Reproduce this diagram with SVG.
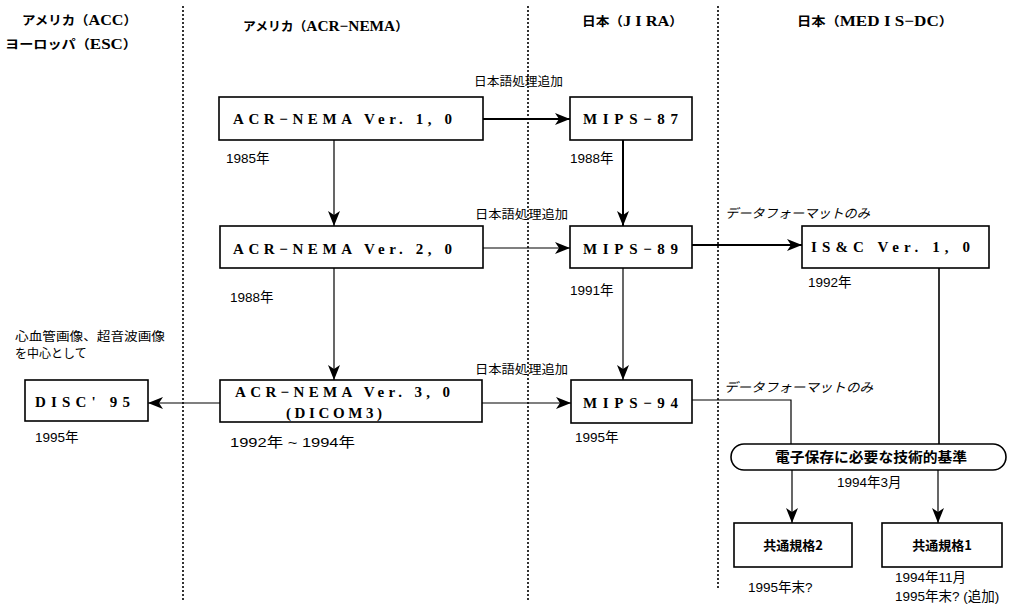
<svg xmlns="http://www.w3.org/2000/svg" width="1018" height="607" viewBox="0 0 1018 607">
<style>
.hdr{font-family:"Liberation Serif","Noto Sans CJK JP",serif;font-weight:bold;font-size:15px;fill:#000}
.hdr tspan.k{font-family:"Noto Sans CJK JP",sans-serif;font-size:12.5px}
.box{fill:#fff;stroke:#000;stroke-width:1.6}
.bt{font-family:"Liberation Serif","Noto Sans CJK JP",serif;font-weight:bold;font-size:15px;fill:#000}
.lbl{font-family:"Liberation Sans","Noto Sans CJK JP",sans-serif;font-size:13.5px;fill:#000}
.jp{font-family:"Noto Sans CJK JP",sans-serif;font-size:12px;fill:#000}
.it{font-family:"Noto Sans CJK JP",sans-serif;font-size:13px;font-style:italic;fill:#000}
.div{stroke:#000;stroke-width:1.6;stroke-dasharray:2,2;fill:none}
.ln{stroke:#000;stroke-width:1.2;fill:none}
.thk{stroke:#000;stroke-width:2;fill:none}
</style>
<defs>
<marker id="ah" markerUnits="userSpaceOnUse" markerWidth="16" markerHeight="12" viewBox="0 0 16 12" refX="15" refY="6" orient="auto">
<path d="M0,0 L15,6 L0,12 L4,6 z" fill="#000"/>
</marker>
</defs>
<rect width="1018" height="607" fill="#fff"/>

<g id="dividers">
<line class="div" x1="183" y1="6" x2="183" y2="600"/>
<line class="div" x1="528" y1="6" x2="528" y2="600"/>
<line class="div" x1="718" y1="6" x2="718" y2="588"/>
</g>

<g id="headers">
<text class="hdr" x="22" y="25" textLength="115" lengthAdjust="spacingAndGlyphs"><tspan class="k">アメリカ（</tspan>ACC<tspan class="k">）</tspan></text>
<text class="hdr" x="5" y="49" textLength="132" lengthAdjust="spacingAndGlyphs"><tspan class="k">ヨーロッパ（</tspan>ESC<tspan class="k">）</tspan></text>
<text class="hdr" x="243" y="31" textLength="165" lengthAdjust="spacingAndGlyphs"><tspan class="k">アメリカ（</tspan>ACR−NEMA<tspan class="k">）</tspan></text>
<text class="hdr" x="582" y="26" textLength="101" lengthAdjust="spacingAndGlyphs"><tspan class="k">日本（</tspan>J I RA<tspan class="k">）</tspan></text>
<text class="hdr" x="797" y="26" textLength="156" lengthAdjust="spacingAndGlyphs"><tspan class="k">日本（</tspan>MED I S−DC<tspan class="k">）</tspan></text>
</g>

<g id="connectors">
<line class="thk" x1="483" y1="119" x2="570" y2="119" marker-end="url(#ah)"/>
<line class="ln" x1="334" y1="140" x2="334" y2="226" marker-end="url(#ah)"/>
<line class="thk" x1="623" y1="140" x2="623" y2="226" marker-end="url(#ah)"/>
<line class="ln" x1="483" y1="248" x2="570" y2="248" marker-end="url(#ah)"/>
<line class="thk" x1="692" y1="245" x2="802" y2="245" marker-end="url(#ah)"/>
<line class="ln" x1="334" y1="268" x2="334" y2="380" marker-end="url(#ah)"/>
<line class="ln" x1="623" y1="268" x2="623" y2="380" marker-end="url(#ah)"/>
<line class="ln" x1="482" y1="403" x2="571" y2="403" marker-end="url(#ah)"/>
<line class="ln" x1="220" y1="403" x2="148" y2="403" marker-end="url(#ah)"/>
<polyline class="ln" points="692,400 791,400 791,444"/>
<line class="thk" x1="939" y1="268" x2="939" y2="444" style="stroke-width:1.6"/>
<line class="ln" x1="792" y1="470" x2="792" y2="523" marker-end="url(#ah)"/>
<line class="ln" x1="938" y1="470" x2="938" y2="523" marker-end="url(#ah)"/>
</g>

<g id="connector-labels">
<text class="jp" x="474" y="86" textLength="89" lengthAdjust="spacingAndGlyphs">日本語処理追加</text>
<text class="jp" x="475" y="219" textLength="93" lengthAdjust="spacingAndGlyphs">日本語処理追加</text>
<text class="jp" x="475" y="374" textLength="93" lengthAdjust="spacingAndGlyphs">日本語処理追加</text>
<text class="it" x="725" y="218" textLength="145" lengthAdjust="spacingAndGlyphs">データフォーマットのみ</text>
<text class="it" x="724" y="392" textLength="149" lengthAdjust="spacingAndGlyphs">データフォーマットのみ</text>
</g>

<g id="acr1">
<rect class="box" x="219" y="97" width="264" height="43"/>
<text class="bt" x="233" y="124" textLength="219" lengthAdjust="spacing">ACR−NEMA Ver. 1, 0</text>
<text class="lbl" x="226" y="163">1985年</text>
</g>

<g id="mips87">
<rect class="box" x="570" y="97" width="122" height="43"/>
<text class="bt" x="583" y="124" textLength="95" lengthAdjust="spacing">MIPS−87</text>
<text class="lbl" x="570" y="163">1988年</text>
</g>

<g id="acr2">
<rect class="box" x="220" y="226" width="263" height="42"/>
<text class="bt" x="233" y="254" textLength="219" lengthAdjust="spacing">ACR−NEMA Ver. 2, 0</text>
<text class="lbl" x="230" y="302">1988年</text>
</g>

<g id="mips89">
<rect class="box" x="570" y="226" width="122" height="42"/>
<text class="bt" x="583" y="254" textLength="95" lengthAdjust="spacing">MIPS−89</text>
<text class="lbl" x="570" y="295">1991年</text>
</g>

<g id="isc">
<rect class="box" x="802" y="226" width="187" height="42"/>
<text class="bt" x="811" y="252" textLength="159" lengthAdjust="spacing">IS&amp;C Ver. 1, 0</text>
<text class="lbl" x="808" y="287">1992年</text>
</g>

<g id="disc95">
<text class="jp" x="15" y="341" textLength="150" lengthAdjust="spacingAndGlyphs">心血管画像、超音波画像</text>
<text class="jp" x="15" y="358">を中心として</text>
<rect class="box" x="25" y="380" width="123" height="41"/>
<text class="bt" x="35" y="407" textLength="95" lengthAdjust="spacing">DISC' 95</text>
<text class="lbl" x="35" y="442">1995年</text>
</g>

<g id="acr3">
<rect class="box" x="220" y="380" width="262" height="42"/>
<text class="bt" x="235" y="397" textLength="215" lengthAdjust="spacing">ACR−NEMA Ver. 3, 0</text>
<text class="bt" x="286" y="418" textLength="96" lengthAdjust="spacing">(DICOM3)</text>
<text class="lbl" x="230" y="447" textLength="125" lengthAdjust="spacingAndGlyphs">1992年 ~ 1994年</text>
</g>

<g id="mips94">
<rect class="box" x="571" y="380" width="121" height="43"/>
<text class="bt" x="583" y="408" textLength="95" lengthAdjust="spacing">MIPS−94</text>
<text class="lbl" x="575" y="442">1995年</text>
</g>

<g id="standard">
<rect class="box" x="731" y="444" width="275" height="26" rx="13" ry="13"/>
<text class="jp" x="775" y="462" textLength="192" lengthAdjust="spacingAndGlyphs" style="font-weight:bold;font-size:14px">電子保存に必要な技術的基準</text>
<text class="lbl" x="837" y="487">1994年3月</text>
</g>

<g id="common2">
<rect class="box" x="734" y="523" width="118" height="44"/>
<text class="jp" x="793" y="550" text-anchor="middle" style="font-weight:bold;font-size:13px">共通規格2</text>
<text class="lbl" x="748" y="592">1995年末?</text>
</g>

<g id="common1">
<rect class="box" x="882" y="523" width="120" height="44"/>
<text class="jp" x="942" y="550" text-anchor="middle" style="font-weight:bold;font-size:13px">共通規格1</text>
<text class="lbl" x="895" y="582">1994年11月</text>
<text class="lbl" x="895" y="601">1995年末? (追加)</text>
</g>
</svg>
